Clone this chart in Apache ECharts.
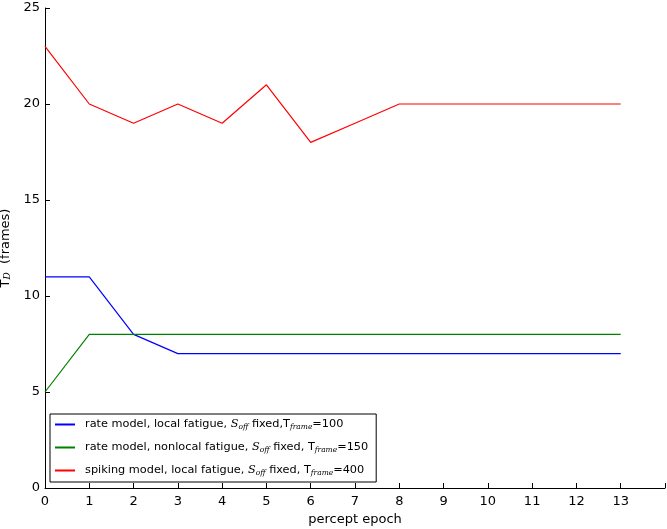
<!DOCTYPE html>
<html><head><meta charset="utf-8">
<script src="https://cdn.jsdelivr.net/npm/echarts@6/dist/echarts.min.js"></script>
<style>html,body{margin:0;padding:0;background:#fff}#c{width:667px;height:529px}</style>
</head><body><div id="c"></div>
<script>
const epochs = [0,1,2,3,4,5,6,7,8,9,10,11,12,13];
const rateLocal = [11,11,8,7,7,7,7,7,7,7,7,7,7,7];
const rateNonlocal = [5,8,8,8,8,8,8,8,8,8,8,8,8,8];
const spikingLocal = [23,20,19,20,19,21,18,19,20,20,20,20,20,20];
const seriesNames = ['rateLocal','rateNonlocal','spikingLocal'];
const legendRich = {
  rateLocal: '{p|}{a|rate model, local fatigue, }{i|S}{s|off}{a| fixed,T}{s|frame}{a|=100}',
  rateNonlocal: '{p|}{a|rate model, nonlocal fatigue, }{i|S}{s|off}{a| fixed, T}{s|frame}{a|=150}',
  spikingLocal: '{p|}{a|spiking model, local fatigue, }{i|S}{s|off}{a| fixed, T}{s|frame}{a|=400}'
};
const colors = ['#0000ff','#008000','#ff0000'];
const font = 'DejaVu Sans';
const chart = echarts.init(document.getElementById('c'));
const mk = (name, data, color) => ({
  name, type:'line', data: epochs.map((e,i)=>[e,data[i]]), showSymbol:false, symbol:'none',
  lineStyle:{color, width:1.2}, itemStyle:{color}, animation:false
});
chart.setOption({
  animation:false,
  textStyle:{fontFamily:font},
  grid:{left:45, right:2, top:8, bottom:41, containLabel:false, outerBoundsMode:'none'},
  xAxis:{type:'value', min:0, max:14, interval:1,
    name:'percept epoch', nameLocation:'middle', nameGap:25,
    nameTextStyle:{fontFamily:font, fontSize:13, color:'#000'},
    axisLine:{show:true, lineStyle:{color:'#000', width:1}},
    axisTick:{inside:true, length:5, lineStyle:{color:'#000'}},
    axisLabel:{fontFamily:font, fontSize:13, color:'#000', margin:7,
      formatter:v=> v>13 ? '' : String(v)},
    splitLine:{show:false}},
  yAxis:{type:'value', min:0, max:25, interval:5,
    name:'{t|T}{d|D}{t|  (frames)}', nameLocation:'middle', nameGap:24, nameRotate:90,
    nameTextStyle:{rich:{t:{fontFamily:font, fontSize:13, color:'#000'}, d:{fontFamily:'DejaVu Serif', fontStyle:'italic', fontSize:9, color:'#000', padding:[5,0,0,0]}}},
    axisLine:{show:true, lineStyle:{color:'#000', width:1}},
    axisTick:{inside:true, length:5, lineStyle:{color:'#000'}},
    axisLabel:{fontFamily:font, fontSize:13, color:'#000', margin:5},
    splitLine:{show:false}},
  legend:{orient:'vertical', left:50, top:414, data:seriesNames,
    backgroundColor:'#fff', borderColor:'#000', borderWidth:1, borderRadius:0,
    padding:[5,8,5,5], itemGap:11, itemWidth:20, itemHeight:2, icon:'rect',
    formatter: n => legendRich[n],
    textStyle:{fontFamily:font, fontSize:11.3, color:'#000',
      rich:{p:{width:5},
        a:{fontFamily:font, fontSize:11.3, color:'#000'},
        i:{fontFamily:'DejaVu Serif', fontStyle:'italic', fontSize:11.3, color:'#000'},
        s:{fontFamily:'DejaVu Serif', fontStyle:'italic', fontSize:7.5, color:'#000', padding:[5,0,0,0]}}}},
  series:[mk('rateLocal',rateLocal,colors[0]), mk('rateNonlocal',rateNonlocal,colors[1]), mk('spikingLocal',spikingLocal,colors[2])]
});
</script></body></html>
